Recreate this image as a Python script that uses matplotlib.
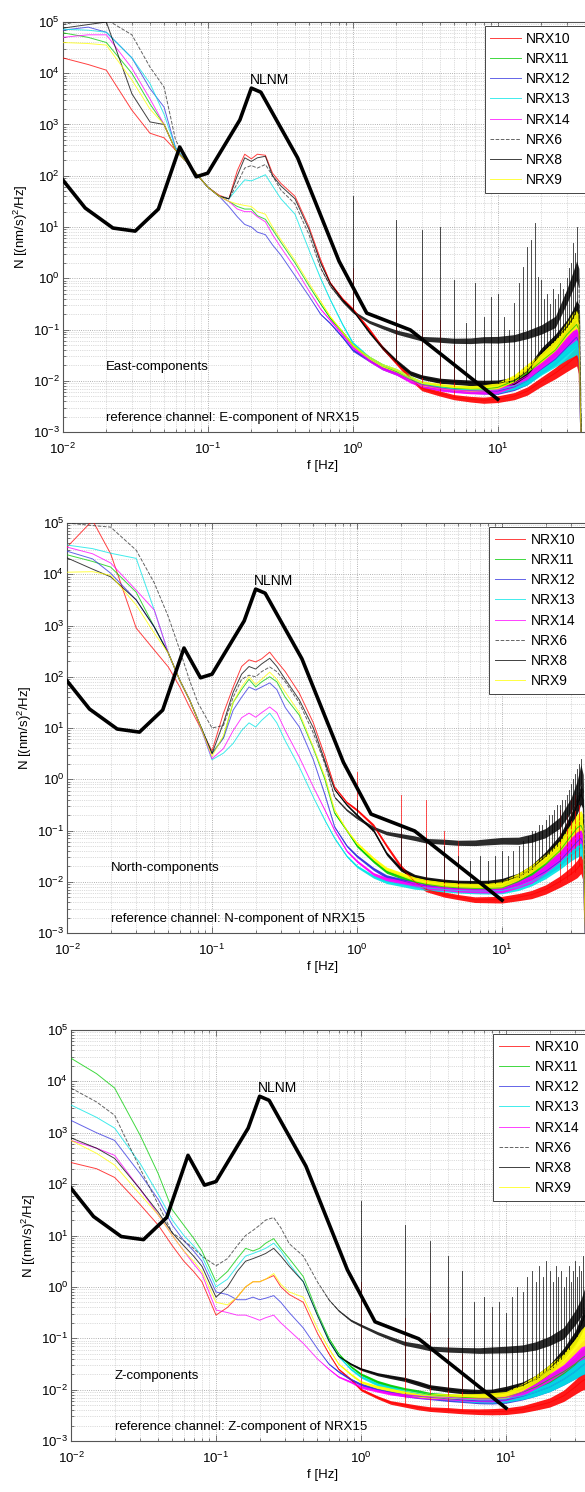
import numpy as np
import matplotlib
matplotlib.use("Agg")
import matplotlib.pyplot as plt
from matplotlib.ticker import FixedLocator, LogLocator, NullFormatter

plt.rcParams['font.family'] = ['Liberation Sans', 'DejaVu Sans']
plt.rcParams['mathtext.fontset'] = 'custom'
plt.rcParams['mathtext.rm'] = 'Liberation Sans'
plt.rcParams['mathtext.it'] = 'Liberation Sans:italic'
plt.rcParams['mathtext.bf'] = 'Liberation Sans:bold'

# ---------------- data (values are log10 of PSD in (nm/s)^2/Hz) ----------------
FREQ = [0.01, 0.015, 0.02, 0.03, 0.04, 0.05, 0.06, 0.07, 0.08, 0.1,
        0.12, 0.14, 0.16, 0.18, 0.2, 0.22, 0.25, 0.28, 0.32, 0.4,
        0.5, 0.6, 0.7, 0.85, 1.0, 1.3, 1.6, 2.0, 2.5, 3.0,
        4.0, 5.0, 6.5, 8.0, 10.0, 13.0, 16.0, 20.0, 25.0, 30.0,
        33.0, 35.0, 36.3, 37.2, 38.0]
# half width (decades) of the noise band seen at high frequency
BAND_HALF = [0, 0, 0, 0, 0, 0, 0, 0, 0, 0,
             0, 0, 0, 0, 0, 0, 0, 0, 0, 0,
             0, 0.01, 0.015, 0.02, 0.025, 0.03, 0.035, 0.04, 0.045, 0.045,
             0.05, 0.05, 0.055, 0.06, 0.065, 0.07, 0.08, 0.09, 0.11, 0.14,
             0.17, 0.19, 0.19, 0.10, 0.0]

NLNM_F = [0.01, 0.0143, 0.0222, 0.0316, 0.0457, 0.0641, 0.0833, 0.1, 0.1667,
          0.2, 0.2326, 0.417, 0.806, 1.25, 2.5, 10.0]
NLNM_LOG = [1.92, 1.37, 0.98, 0.92, 1.35, 2.56, 1.98, 2.05, 3.09,
            3.71, 3.63, 2.35, 0.33, -0.68, -1.01, -2.36]

SERIES = ['NRX10', 'NRX11', 'NRX12', 'NRX13', 'NRX14', 'NRX6', 'NRX8', 'NRX9']
HARMONICS = list(range(1, 36))
X_DECADES = [0.01, 0.1, 1.0, 10.0]
Y_DECADES = [1e-3, 1e-2, 1e-1, 1e0, 1e1, 1e2, 1e3, 1e4, 1e5]

# East components
E_NRX10 = [4.30, 4.17, 4.06, 3.28, 2.83, 2.74, 2.50, 2.30, 2.10, 1.78,
           1.62, 1.55, 2.10, 2.42, 2.33, 2.42, 2.40, 2.05, 1.85, 1.60,
           1.00, 0.36, -0.09, -0.40, -0.60, -1.00, -1.35, -1.65, -1.95, -2.15,
           -2.25, -2.32, -2.36, -2.38, -2.36, -2.30, -2.20, -2.02, -1.85, -1.68,
           -1.58, -1.52, -1.70, -2.80, -3.60]
E_NRX11 = [4.79, 4.70, 4.60, 4.00, 3.40, 3.00, 2.50, 2.30, 2.10, 1.78,
           1.60, 1.50, 1.40, 1.35, 1.35, 1.22, 1.15, 0.95, 0.70, 0.30,
           -0.15, -0.50, -0.78, -1.05, -1.30, -1.55, -1.70, -1.82, -1.95, -2.07,
           -2.12, -2.15, -2.16, -2.16, -2.13, -2.00, -1.85, -1.62, -1.40, -1.10,
           -0.98, -0.90, -1.00, -2.60, -3.50]
E_NRX12 = [4.84, 4.90, 4.80, 4.30, 3.70, 3.34, 2.55, 2.30, 2.10, 1.78,
           1.60, 1.40, 1.20, 1.05, 1.00, 0.90, 0.85, 0.65, 0.45, 0.05,
           -0.35, -0.70, -0.88, -1.15, -1.40, -1.60, -1.75, -1.85, -1.98, -2.08,
           -2.14, -2.17, -2.19, -2.20, -2.20, -2.12, -2.00, -1.78, -1.58, -1.35,
           -1.22, -1.15, -1.25, -2.80, -3.50]
E_NRX13 = [4.86, 4.84, 4.80, 4.30, 3.80, 3.20, 2.55, 2.30, 2.10, 1.78,
           1.60, 1.55, 1.75, 1.92, 1.90, 1.95, 2.02, 1.80, 1.55, 1.25,
           0.55, 0.00, -0.42, -0.90, -1.26, -1.55, -1.70, -1.80, -1.95, -2.05,
           -2.12, -2.16, -2.18, -2.18, -2.18, -2.10, -2.00, -1.80, -1.62, -1.45,
           -1.36, -1.30, -1.40, -2.80, -3.50]
E_NRX14 = [4.70, 4.75, 4.75, 4.10, 3.50, 3.00, 2.50, 2.30, 2.10, 1.78,
           1.60, 1.50, 1.35, 1.30, 1.30, 1.20, 1.10, 0.85, 0.60, 0.20,
           -0.25, -0.60, -0.82, -1.10, -1.35, -1.60, -1.75, -1.85, -2.00, -2.08,
           -2.15, -2.18, -2.20, -2.20, -2.18, -2.05, -1.90, -1.68, -1.45, -1.20,
           -1.08, -1.00, -1.10, -2.70, -3.50]
E_NRX6 = [4.95, 5.05, 5.05, 4.75, 4.12, 3.73, 2.70, 2.35, 2.10, 1.78,
          1.60, 1.55, 1.85, 2.15, 2.20, 2.15, 2.22, 2.00, 1.72, 1.45,
          0.85, 0.20, -0.15, -0.45, -0.65, -0.85, -0.95, -1.05, -1.12, -1.18,
          -1.20, -1.22, -1.22, -1.20, -1.20, -1.17, -1.10, -1.00, -0.85, -0.35,
          -0.05, 0.15, 0.00, -2.00, -3.50]
E_NRX8 = [4.88, 4.95, 5.00, 3.60, 3.05, 3.00, 2.50, 2.30, 2.10, 1.78,
          1.60, 1.55, 2.00, 2.35, 2.28, 2.35, 2.38, 2.00, 1.80, 1.55,
          0.95, 0.30, -0.10, -0.42, -0.62, -1.05, -1.35, -1.62, -1.85, -1.93,
          -2.00, -2.02, -2.04, -2.05, -2.05, -2.00, -1.82, -1.45, -1.20, -0.95,
          -0.78, -0.62, -0.70, -2.50, -3.50]
E_NRX9 = [4.60, 4.58, 4.55, 3.87, 3.30, 3.00, 2.50, 2.30, 2.10, 1.78,
          1.60, 1.50, 1.45, 1.42, 1.40, 1.30, 1.25, 1.00, 0.75, 0.35,
          -0.10, -0.45, -0.75, -1.05, -1.30, -1.55, -1.70, -1.80, -1.95, -2.05,
          -2.10, -2.13, -2.15, -2.14, -2.10, -1.95, -1.75, -1.55, -1.30, -1.00,
          -0.85, -0.80, -0.90, -2.60, -3.50]
E_SPK8_TOP = [1.60, 1.14, 0.94, 1.00, -0.03, -0.87, -0.10, -0.75, -0.37, -0.30,
              -0.76, -1.00, -0.48, -0.09, 0.22, 0.61, 0.75, 1.07, 0.03, -0.03,
              -0.40, -0.30, -0.50, -0.20, -0.40, -0.30, -0.10, -0.20, -0.30, 0.00,
              0.20, 0.30, 0.69, 0.50, 1.00]
E_SPK8_BASE = [-0.62, -1.62, -1.93, -2.00, -2.02, -2.03, -2.04, -2.05, -2.05, -2.05,
               -2.03, -2.02, -2.00, -1.95, -1.85, -1.82, -1.75, -1.60, -1.50, -1.45,
               -1.40, -1.35, -1.30, -1.25, -1.20, -1.15, -1.10, -1.05, -1.00, -0.95,
               -0.90, -0.85, -0.78, -0.70, -0.62]
E_SPK10_F = [1, 2, 3, 4, 5]
E_SPK10_TOP = [0.20, -0.62, -0.62, -0.81, -1.30]
E_SPK10_BASE = [-0.60, -1.65, -2.15, -2.25, -2.32]

# North components
N_NRX10 = [4.53, 5.05, 4.40, 2.95, 2.52, 2.19, 1.80, 1.41, 1.10, 0.55,
           1.29, 1.80, 2.20, 2.33, 2.29, 2.35, 2.48, 2.30, 2.10, 1.68,
           1.10, 0.45, -0.15, -0.45, -0.60, -0.90, -1.30, -1.70, -2.00, -2.15,
           -2.25, -2.30, -2.35, -2.35, -2.35, -2.30, -2.25, -2.15, -2.00, -1.85,
           -1.75, -1.65, -1.80, -2.80, -3.50]
N_NRX11 = [4.38, 4.25, 4.14, 3.65, 2.97, 2.46, 1.93, 1.55, 1.16, 0.50,
           0.82, 1.50, 1.75, 1.95, 1.80, 1.90, 2.00, 1.90, 1.60, 1.25,
           0.60, 0.00, -0.66, -1.00, -1.30, -1.60, -1.80, -1.90, -2.00, -2.05,
           -2.10, -2.12, -2.13, -2.13, -2.12, -2.00, -1.85, -1.65, -1.40, -1.10,
           -0.95, -0.90, -1.00, -2.60, -3.50]
N_NRX12 = [4.45, 4.30, 4.02, 3.50, 2.97, 2.46, 1.93, 1.55, 1.16, 0.50,
           0.80, 1.35, 1.60, 1.80, 1.74, 1.80, 1.88, 1.75, 1.40, 1.02,
           0.38, -0.30, -0.93, -1.30, -1.50, -1.75, -1.90, -1.97, -2.05, -2.08,
           -2.12, -2.14, -2.15, -2.15, -2.15, -2.05, -1.95, -1.80, -1.60, -1.35,
           -1.22, -1.15, -1.25, -2.80, -3.50]
N_NRX13 = [4.57, 4.50, 4.41, 4.31, 3.30, 2.46, 1.93, 1.55, 1.16, 0.38,
           0.51, 0.70, 0.95, 1.10, 1.02, 1.15, 1.29, 1.10, 0.75, 0.24,
           -0.35, -0.80, -1.15, -1.50, -1.70, -1.90, -2.00, -2.05, -2.10, -2.12,
           -2.15, -2.17, -2.18, -2.18, -2.17, -2.10, -2.00, -1.85, -1.65, -1.45,
           -1.35, -1.30, -1.40, -2.80, -3.50]
N_NRX14 = [4.53, 4.40, 4.22, 3.69, 3.30, 2.46, 1.93, 1.55, 1.16, 0.40,
           0.60, 0.95, 1.20, 1.29, 1.21, 1.30, 1.41, 1.30, 0.95, 0.43,
           -0.15, -0.60, -1.00, -1.40, -1.60, -1.85, -1.95, -2.00, -2.05, -2.10,
           -2.12, -2.15, -2.16, -2.16, -2.15, -2.05, -1.95, -1.75, -1.50, -1.25,
           -1.12, -1.05, -1.15, -2.70, -3.50]
N_NRX6 = [5.00, 4.95, 4.92, 4.47, 3.83, 3.17, 2.52, 1.93, 1.49, 1.00,
          1.05, 1.60, 1.95, 2.03, 2.00, 2.10, 2.19, 2.10, 1.90, 1.49,
          0.90, 0.30, -0.35, -0.60, -0.75, -0.95, -1.05, -1.10, -1.15, -1.20,
          -1.22, -1.24, -1.24, -1.22, -1.20, -1.20, -1.15, -1.05, -0.85, -0.50,
          -0.20, 0.10, -0.10, -2.00, -3.50]
N_NRX8 = [4.32, 4.10, 3.95, 3.50, 2.97, 2.46, 1.93, 1.55, 1.16, 0.50,
          1.10, 1.70, 2.05, 2.20, 2.15, 2.25, 2.36, 2.20, 1.95, 1.55,
          1.00, 0.35, -0.20, -0.50, -0.70, -1.00, -1.45, -1.75, -1.90, -1.95,
          -2.00, -2.02, -2.03, -2.03, -2.00, -1.90, -1.75, -1.50, -1.20, -0.80,
          -0.50, -0.30, -0.40, -2.50, -3.50]
N_NRX9 = [4.04, 4.05, 3.98, 3.40, 2.85, 2.46, 1.93, 1.55, 1.16, 0.45,
          0.85, 1.50, 1.80, 2.00, 1.85, 1.95, 2.09, 1.95, 1.70, 1.30,
          0.63, 0.05, -0.60, -1.00, -1.25, -1.55, -1.75, -1.85, -1.95, -2.00,
          -2.05, -2.07, -2.08, -2.08, -2.05, -1.90, -1.75, -1.55, -1.30, -1.00,
          -0.85, -0.80, -0.90, -2.60, -3.50]
N_SPK8_TOP = [-0.40, -0.90, -1.20, -1.30, -1.50, -1.60, -1.50, -1.60, -1.50, -1.40,
              -1.50, -1.40, -1.30, -1.20, -1.10, -1.00, -1.00, -0.90, -0.90, -0.80,
              -0.70, -0.70, -0.60, -0.50, -0.50, -0.40, -0.40, -0.30, -0.20, -0.10,
              0.00, 0.10, 0.20, 0.30, 0.40]
N_SPK8_BASE = [-0.70, -1.75, -1.95, -2.00, -2.02, -2.03, -2.03, -2.03, -2.02, -2.00,
               -1.97, -1.93, -1.90, -1.85, -1.80, -1.75, -1.70, -1.60, -1.55, -1.50,
               -1.45, -1.40, -1.35, -1.30, -1.20, -1.15, -1.05, -0.95, -0.90, -0.80,
               -0.70, -0.60, -0.50, -0.40, -0.30]
N_SPK10_F = [1, 2, 3, 4, 5, 25, 28, 30, 32, 34]
N_SPK10_TOP = [0.14, -0.30, -0.40, -1.00, -1.20, -0.60, -0.70, -0.40, -0.30, -0.50]
N_SPK10_BASE = [-0.60, -1.70, -2.15, -2.25, -2.30, -2.00, -1.95, -1.85, -1.80, -1.70]

# Z components
Z_NRX10 = [2.42, 2.30, 2.13, 1.60, 1.20, 0.80, 0.50, 0.30, 0.10, -0.55,
           -0.40, -0.20, 0.00, 0.10, 0.10, 0.15, 0.22, 0.00, -0.15, -0.30,
           -0.90, -1.30, -1.60, -1.80, -2.00, -2.15, -2.25, -2.30, -2.35, -2.38,
           -2.40, -2.42, -2.43, -2.43, -2.42, -2.38, -2.32, -2.25, -2.12, -1.95,
           -1.85, -1.80, -1.90, -3.00, -3.50]
Z_NRX11 = [4.45, 4.15, 3.87, 2.95, 2.20, 1.50, 1.20, 0.95, 0.70, 0.10,
           0.30, 0.55, 0.75, 0.70, 0.75, 0.85, 0.94, 0.75, 0.55, 0.20,
           -0.50, -1.00, -1.30, -1.55, -1.70, -1.85, -1.93, -2.00, -2.05, -2.10,
           -2.13, -2.15, -2.17, -2.17, -2.15, -2.05, -1.95, -1.80, -1.65, -1.50,
           -1.40, -1.35, -1.45, -2.80, -3.50]
Z_NRX12 = [3.24, 3.00, 2.85, 2.20, 1.70, 1.20, 0.90, 0.70, 0.50, -0.10,
           -0.15, -0.25, -0.25, -0.20, -0.25, -0.22, -0.17, -0.30, -0.50, -0.80,
           -1.20, -1.50, -1.65, -1.80, -1.90, -2.00, -2.05, -2.10, -2.13, -2.15,
           -2.18, -2.20, -2.22, -2.22, -2.20, -2.13, -2.05, -1.95, -1.80, -1.65,
           -1.55, -1.50, -1.60, -2.90, -3.50]
Z_NRX13 = [3.54, 3.30, 3.09, 2.40, 1.80, 1.30, 1.00, 0.80, 0.60, 0.00,
           0.15, 0.40, 0.60, 0.65, 0.70, 0.75, 0.85, 0.70, 0.45, 0.10,
           -0.55, -1.05, -1.35, -1.60, -1.75, -1.90, -1.97, -2.03, -2.08, -2.12,
           -2.15, -2.18, -2.20, -2.20, -2.18, -2.12, -2.05, -1.95, -1.80, -1.65,
           -1.55, -1.50, -1.60, -2.90, -3.50]
Z_NRX14 = [2.85, 2.70, 2.56, 1.90, 1.40, 1.00, 0.70, 0.45, 0.25, -0.45,
           -0.50, -0.55, -0.55, -0.60, -0.65, -0.60, -0.55, -0.70, -0.85, -1.10,
           -1.40, -1.60, -1.75, -1.85, -1.95, -2.02, -2.07, -2.10, -2.12, -2.14,
           -2.15, -2.17, -2.18, -2.18, -2.15, -2.05, -1.90, -1.75, -1.55, -1.35,
           -1.25, -1.20, -1.30, -2.80, -3.50]
Z_NRX6 = [3.87, 3.60, 3.34, 2.30, 1.60, 1.05, 0.90, 0.75, 0.60, 0.41,
          0.55, 0.80, 1.00, 1.10, 1.20, 1.30, 1.35, 1.15, 0.84, 0.60,
          0.10, -0.25, -0.46, -0.65, -0.75, -0.90, -1.00, -1.10, -1.15, -1.20,
          -1.22, -1.23, -1.24, -1.23, -1.22, -1.20, -1.15, -1.05, -0.90, -0.60,
          -0.40, -0.20, -0.30, -2.00, -3.50]
Z_NRX8 = [2.90, 2.70, 2.50, 1.90, 1.45, 1.05, 0.80, 0.60, 0.40, -0.20,
          0.00, 0.30, 0.50, 0.55, 0.60, 0.65, 0.75, 0.60, 0.40, 0.10,
          -0.55, -1.05, -1.35, -1.50, -1.60, -1.70, -1.75, -1.80, -1.88, -1.95,
          -2.00, -2.03, -2.05, -2.05, -2.00, -1.92, -1.80, -1.60, -1.30, -1.00,
          -0.75, -0.55, -0.60, -2.50, -3.50]
Z_NRX9 = [2.85, 2.60, 2.37, 1.80, 1.40, 1.00, 0.70, 0.50, 0.30, -0.30,
          -0.35, -0.20, 0.00, 0.10, 0.10, 0.15, 0.26, 0.05, -0.10, -0.20,
          -0.80, -1.20, -1.50, -1.70, -1.85, -1.95, -2.00, -2.05, -2.10, -2.12,
          -2.13, -2.13, -2.13, -2.12, -2.10, -1.95, -1.80, -1.60, -1.40, -1.15,
          -1.00, -0.95, -1.05, -2.60, -3.50]
Z_SPK8_TOP = [1.68, 1.20, 0.90, 0.60, 0.30, -0.30, -0.20, -0.40, -0.30, -0.50,
              -0.20, 0.00, -0.10, 0.20, 0.30, 0.10, 0.40, 0.20, 0.50, 0.30,
              0.10, 0.40, 0.20, 0.30, 0.00, 0.20, 0.40, 0.10, 0.30, 0.50,
              0.20, 0.40, 0.30, 0.60, 0.50]
Z_SPK8_BASE = [-1.60, -1.75, -1.95, -2.00, -2.03, -2.04, -2.05, -2.05, -2.03, -2.00,
               -1.98, -1.95, -1.92, -1.88, -1.84, -1.80, -1.75, -1.68, -1.62, -1.60,
               -1.55, -1.50, -1.45, -1.40, -1.30, -1.25, -1.20, -1.10, -1.05, -1.00,
               -0.95, -0.85, -0.75, -0.65, -0.55]
Z_SPK10_F = [1, 2, 3, 4, 5]
Z_SPK10_TOP = [0.10, -0.60, -0.50, -1.00, -1.30]
Z_SPK10_BASE = [-2.00, -2.30, -2.38, -2.40, -2.42]

PANEL_DATA = [
    dict(curves=dict(zip(SERIES, [E_NRX10, E_NRX11, E_NRX12, E_NRX13, E_NRX14, E_NRX6, E_NRX8, E_NRX9])),
         spikes={'NRX10': (E_SPK10_F, E_SPK10_BASE, E_SPK10_TOP), 'NRX8': (HARMONICS, E_SPK8_BASE, E_SPK8_TOP)},
         label='East-components', ref='reference channel: E-component of NRX15'),
    dict(curves=dict(zip(SERIES, [N_NRX10, N_NRX11, N_NRX12, N_NRX13, N_NRX14, N_NRX6, N_NRX8, N_NRX9])),
         spikes={'NRX10': (N_SPK10_F, N_SPK10_BASE, N_SPK10_TOP), 'NRX8': (HARMONICS, N_SPK8_BASE, N_SPK8_TOP)},
         label='North-components', ref='reference channel: N-component of NRX15'),
    dict(curves=dict(zip(SERIES, [Z_NRX10, Z_NRX11, Z_NRX12, Z_NRX13, Z_NRX14, Z_NRX6, Z_NRX8, Z_NRX9])),
         spikes={'NRX10': (Z_SPK10_F, Z_SPK10_BASE, Z_SPK10_TOP), 'NRX8': (HARMONICS, Z_SPK8_BASE, Z_SPK8_TOP)},
         label='Z-components', ref='reference channel: Z-component of NRX15'),
]

# ---------------- styles / layout ----------------
COLORS = {'NRX10': '#ff0000', 'NRX11': '#00cc00', 'NRX12': '#3030e0', 'NRX13': '#00e5e5',
          'NRX14': '#ff00ff', 'NRX6': '#303030', 'NRX8': '#000000', 'NRX9': '#ffff00'}
FILLS = dict(COLORS)
FILLS['NRX6'] = '#151515'
LSTYLE = {k: '-' for k in SERIES}
LSTYLE['NRX6'] = '--'

W, H = 585, 1492
XMIN, XMAX = 0.01, 50.0
DEC_PX = 145.0
SPAN_PX = np.log10(XMAX / XMIN) * DEC_PX
PANEL_PX = [(62.7, 22, 432), (67, 523, 933), (71, 1030, 1441)]

fig = plt.figure(figsize=(W / 100, H / 100), dpi=100)

f = np.array(FREQ)
bw = np.array(BAND_HALF)

for (left, top, bottom), pdata in zip(PANEL_PX, PANEL_DATA):
    hpx = bottom - top
    ax = fig.add_axes([left / W, 1 - bottom / H, SPAN_PX / W, hpx / H])
    ax.set_xscale('log')
    ax.set_yscale('log')
    ax.set_xlim(XMIN, XMAX)
    ax.set_ylim(1e-3, 1e5)

    for name in SERIES:
        v = np.array(pdata['curves'][name])
        col = COLORS[name]
        ax.fill_between(f, 10 ** (v - bw), 10 ** (v + bw), color=FILLS[name], lw=0,
                        zorder=2, alpha=0.9)
        ax.plot(f, 10 ** v, color=col, ls=LSTYLE[name], lw=0.7, alpha=0.75,
                label=name, zorder=3)
        if name in pdata['spikes']:
            sf, sb, st = pdata['spikes'][name]
            sf = np.array(sf, float)
            xs = np.column_stack([sf, sf, np.full_like(sf, np.nan)]).ravel()
            ys = np.column_stack([10 ** np.array(sb), 10 ** np.array(st),
                                  np.full_like(sf, np.nan)]).ravel()
            ax.plot(xs, ys, color=col, lw=0.65, alpha=0.75, zorder=3)

    ax.plot(NLNM_F, 10 ** np.array(NLNM_LOG), color='black', lw=2.6, zorder=5)
    ax.text(0.195, 10 ** 3.87, 'NLNM', fontsize=10, ha='left', va='center', zorder=6)
    ax.text(0.02, 10 ** -1.73, pdata['label'], fontsize=9.5, ha='left', va='center', zorder=6)
    ax.text(0.02, 10 ** -2.73, pdata['ref'], fontsize=9.5, ha='left', va='center', zorder=6)

    ax.xaxis.set_major_locator(FixedLocator(X_DECADES))
    ax.xaxis.set_minor_locator(LogLocator(base=10, subs=np.arange(2, 10), numticks=20))
    ax.yaxis.set_major_locator(FixedLocator(Y_DECADES))
    ax.yaxis.set_minor_locator(LogLocator(base=10, subs=np.arange(2, 10), numticks=20))
    ax.xaxis.set_minor_formatter(NullFormatter())
    ax.yaxis.set_minor_formatter(NullFormatter())
    ax.grid(True, which='major', ls=':', color='#999999', lw=0.6)
    ax.grid(True, which='minor', ls=':', color='#bbbbbb', lw=0.5)
    ax.set_axisbelow(True)
    ax.tick_params(which='both', direction='in', top=True, right=True, labelsize=9.5,
                   width=0.5, color='#444444')
    ax.tick_params(which='major', length=4)
    ax.tick_params(which='minor', length=2)
    ax.tick_params(axis='x', which='major', pad=7)
    ax.tick_params(axis='y', which='major', pad=2)
    for s in ax.spines.values():
        s.set_color('#555555')
        s.set_linewidth(0.8)
    ax.set_xlabel('f [Hz]', fontsize=9.5, va='top')
    ax.xaxis.set_label_coords((322.5 - left) / SPAN_PX, -28 / hpx)
    ax.set_ylabel('N [(nm/s)$^2$/Hz]', fontsize=9.5, labelpad=2)

    leg = ax.legend(loc='upper left',
                    bbox_to_anchor=(422 / SPAN_PX, 0, 170 / SPAN_PX, 1 - 4 / hpx),
                    mode='expand', fontsize=10, frameon=True, fancybox=False,
                    framealpha=1, edgecolor='#444444', handlelength=2.2,
                    handletextpad=0.4, labelspacing=0.45, borderaxespad=0)
    leg.get_frame().set_linewidth(0.7)
    leg.set_zorder(10)

fig.savefig('out.png', dpi=100)
